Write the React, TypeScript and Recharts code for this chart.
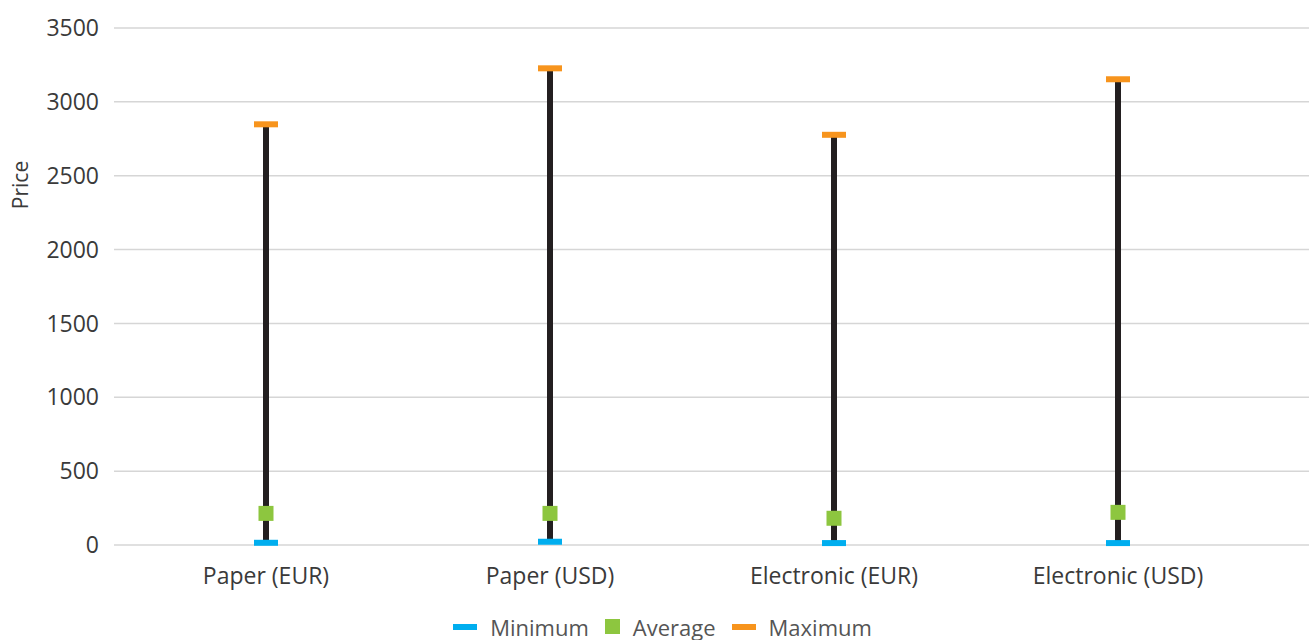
import React from 'react';
import { ComposedChart, Bar, Scatter, XAxis, YAxis, CartesianGrid, Legend } from 'recharts';

const categories = ['Paper (EUR)', 'Paper (USD)', 'Electronic (EUR)', 'Electronic (USD)'];
const minimum = [15, 22, 13, 13];
const average = [214, 214, 181, 221];
const maximum = [2848, 3227, 2777, 3153];
const yTicks = [0, 500, 1000, 1500, 2000, 2500, 3000, 3500];

const COLORS = { min: '#00aeef', avg: '#8dc63f', max: '#f7941d', range: '#231f20' };
const FONT = '"Open Sans", sans-serif';
const TEXT = '#3a3a3a';

const data = categories.map((name, i) => ({
  name,
  min: minimum[i],
  avg: average[i],
  max: maximum[i],
}));

const Cap = (color: string) => (props: any) => (
  <rect x={props.cx - 12} y={props.cy - 3} width={24} height={6} fill={color} />
);

const Square = (props: any) => (
  <rect x={props.cx - 7.5} y={props.cy - 7.5} width={15} height={15} fill={COLORS.avg} />
);

const legendItems = [
  { label: 'Minimum', color: COLORS.min, square: false },
  { label: 'Average', color: COLORS.avg, square: true },
  { label: 'Maximum', color: COLORS.max, square: false },
];

const renderLegend = () => (
  <div
    style={{
      height: 35,
      boxSizing: 'border-box',
      paddingTop: 8,
      paddingLeft: 32,
      display: 'flex',
      justifyContent: 'center',
      alignItems: 'center',
      fontFamily: FONT,
      fontSize: 22,
      color: '#555',
      lineHeight: '24px',
    }}
  >
    {legendItems.map((it) => (
      <div key={it.label} style={{ display: 'flex', alignItems: 'center', marginRight: 16 }}>
        <span
          style={{
            display: 'inline-block',
            width: it.square ? 15 : 24,
            height: it.square ? 15 : 6,
            background: it.color,
            marginRight: 13,
          }}
        />
        <span>{it.label}</span>
      </div>
    ))}
  </div>
);

const PriceLabel = () => (
  <text
    x={20}
    y={185}
    transform="rotate(-90 20 185)"
    textAnchor="middle"
    dominantBaseline="central"
    fontFamily={FONT}
    fontSize={21}
    fill={TEXT}
  >
    Price
  </text>
);

export default function App() {
  return (
    <div style={{ position: 'absolute', left: 0, top: 0, background: '#fff' }}>
      <ComposedChart
        width={1309}
        height={640}
        data={data}
        margin={{ top: 28, right: 0, bottom: 0, left: 0 }}
      >
        <CartesianGrid vertical={false} stroke="#d6d6d6" strokeWidth={1.5} />
        <XAxis
          dataKey="name"
          scale="band"
          padding={{ left: 10, right: 49 }}
          axisLine={false}
          tickLine={false}
          tickSize={0}
          tickMargin={23}
          height={60}
          interval={0}
          tick={{ fontFamily: FONT, fontSize: 23, fill: TEXT }}
        />
        <YAxis
          domain={[0, 3500]}
          ticks={yTicks}
          width={114}
          axisLine={false}
          tickLine={false}
          tickSize={0}
          tickMargin={15}
          tick={{ fontFamily: FONT, fontSize: 23, fill: TEXT }}
          label={<PriceLabel />}
        />
        <Bar
          dataKey={(d: any) => [d.min, d.max]}
          barSize={6}
          fill={COLORS.range}
          isAnimationActive={false}
          legendType="none"
        />
        <Scatter dataKey="min" name="Minimum" shape={Cap(COLORS.min)} isAnimationActive={false} />
        <Scatter dataKey="avg" name="Average" shape={Square} isAnimationActive={false} />
        <Scatter dataKey="max" name="Maximum" shape={Cap(COLORS.max)} isAnimationActive={false} />
        <Legend verticalAlign="bottom" content={renderLegend} />
      </ComposedChart>
    </div>
  );
}
